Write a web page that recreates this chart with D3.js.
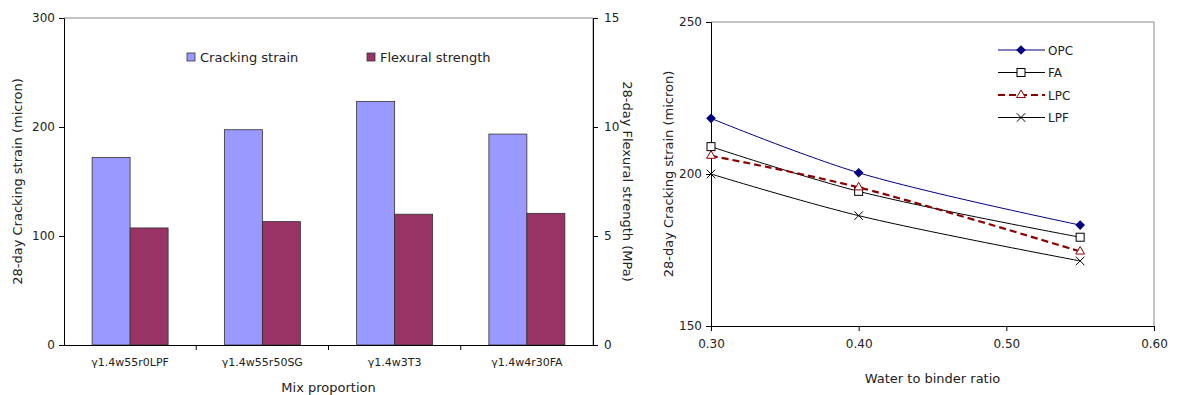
<!DOCTYPE html>
<html>
<head>
<meta charset="utf-8">
<script src="https://cdn.jsdelivr.net/npm/d3@7"></script>
<style>
  body { margin: 0; background: #fff; }
  svg text { font-family: "DejaVu Sans", sans-serif; fill: #222; }
</style>
</head>
<body>
<svg width="1177" height="395"></svg>
<script>
// bar chart data
var mixes        = ["γ1.4w55r0LPF", "γ1.4w55r50SG", "γ1.4w3T3", "γ1.4w4r30FA"];
var crackStrain  = [172, 197.5, 223.5, 193.5];
var flexStrength = [5.37, 5.66, 6.0, 6.04];

// line chart data
var wbRatio = [0.30, 0.40, 0.55];
var opc = [218.3, 200.4, 183.2];
var fa  = [209.0, 194.3, 179.2];
var lpc = [206.0, 195.6, 174.5];
var lpf = [200.0, 186.3, 171.4];

var svg = d3.select("svg");

// ---------- left: bar chart ----------
var L = {left: 64, right: 593, top: 18, bottom: 345};
var gBar = svg.append("g");

var x0 = d3.scaleBand().domain(mixes).range([L.left, L.right]);
var yL = d3.scaleLinear().domain([0, 300]).range([L.bottom, L.top]);
var yR = d3.scaleLinear().domain([0, 15]).range([L.bottom, L.top]);
var barW = 38;

// plot frame (top/right gray)
gBar.append("path")
  .attr("d", "M" + L.left + "," + L.top + "H" + L.right + "V" + L.bottom)
  .attr("fill", "none").attr("stroke", "#888");

gBar.selectAll(".cs").data(mixes).enter().append("rect")
  .attr("x", d => x0(d) + x0.bandwidth()/2 - barW)
  .attr("y", (d, i) => yL(crackStrain[i]))
  .attr("width", barW)
  .attr("height", (d, i) => L.bottom - yL(crackStrain[i]))
  .attr("fill", "#9999ff").attr("stroke", "#333").attr("stroke-width", 0.8);

gBar.selectAll(".fs").data(mixes).enter().append("rect")
  .attr("x", d => x0(d) + x0.bandwidth()/2)
  .attr("y", (d, i) => yR(flexStrength[i]))
  .attr("width", barW)
  .attr("height", (d, i) => L.bottom - yR(flexStrength[i]))
  .attr("fill", "#993366").attr("stroke", "#333").attr("stroke-width", 0.8);

var axL = gBar.append("g").attr("transform", "translate(" + L.left + ",0)")
  .call(d3.axisLeft(yL).tickValues([0, 100, 200, 300]).tickSize(5).tickPadding(4));
var axR = gBar.append("g").attr("transform", "translate(" + L.right + ",0)")
  .call(d3.axisRight(yR).tickValues([0, 5, 10, 15]).tickSize(5).tickPadding(6));
var axB = gBar.append("g").attr("transform", "translate(0," + L.bottom + ")")
  .call(d3.axisBottom(x0).tickSize(0).tickPadding(13));
// category boundary ticks
gBar.selectAll(".bt").data(mixes.slice(1)).enter().append("line")
  .attr("x1", d => x0(d)).attr("x2", d => x0(d))
  .attr("y1", L.bottom).attr("y2", L.bottom + 5).attr("stroke", "#000");

[axL, axR, axB].forEach(a => {
  a.select(".domain").attr("stroke", "#000");
  a.selectAll("text").attr("font-size", 12).attr("font-family", "DejaVu Sans");
});
axB.selectAll("text").attr("font-size", 11);

gBar.append("text").attr("transform", "translate(22," + (L.top + L.bottom)/2 + ") rotate(-90)")
  .attr("text-anchor", "middle").attr("font-size", 13).text("28-day Cracking strain (micron)");
gBar.append("text").attr("transform", "translate(623," + (L.top + L.bottom)/2 + ") rotate(90)")
  .attr("text-anchor", "middle").attr("font-size", 13).text("28-day Flexural strength (MPa)");
gBar.append("text").attr("x", (L.left + L.right)/2).attr("y", 392)
  .attr("text-anchor", "middle").attr("font-size", 13).text("Mix proportion");

var barLegend = [["Cracking strain", "#9999ff", 187], ["Flexural strength", "#993366", 367]];
barLegend.forEach(d => {
  gBar.append("rect").attr("x", d[2]).attr("y", 53).attr("width", 8).attr("height", 8)
    .attr("fill", d[1]).attr("stroke", "#333").attr("stroke-width", 0.8);
  gBar.append("text").attr("x", d[2] + 13).attr("y", 62).attr("font-size", 13).text(d[0]);
});

// ---------- right: line chart ----------
var R = {left: 711, right: 1154, top: 22, bottom: 326};
var gLine = svg.append("g");
var xs = d3.scaleLinear().domain([0.30, 0.60]).range([R.left, R.right]);
var ys = d3.scaleLinear().domain([150, 250]).range([R.bottom, R.top]);

gLine.append("path")
  .attr("d", "M" + R.left + "," + R.top + "H" + R.right + "V" + R.bottom)
  .attr("fill", "none").attr("stroke", "#888");

var axX = gLine.append("g").attr("transform", "translate(0," + R.bottom + ")")
  .call(d3.axisBottom(xs).tickValues([0.30, 0.40, 0.50, 0.60]).tickFormat(d3.format(".2f")).tickSize(5).tickPadding(8));
var axY = gLine.append("g").attr("transform", "translate(" + R.left + ",0)")
  .call(d3.axisLeft(ys).tickValues([150, 200, 250]).tickSize(5).tickPadding(4));
[axX, axY].forEach(a => {
  a.select(".domain").attr("stroke", "#000");
  a.selectAll("text").attr("font-size", 12).attr("font-family", "DejaVu Sans");
});

gLine.append("text").attr("transform", "translate(673," + (R.top + R.bottom)/2 + ") rotate(-90)")
  .attr("text-anchor", "middle").attr("font-size", 13).text("28-day Cracking strain (micron)");
gLine.append("text").attr("x", (R.left + R.right)/2).attr("y", 383)
  .attr("text-anchor", "middle").attr("font-size", 13).text("Water to binder ratio");

var series = [
  {name: "OPC", vals: opc, color: "#000080", dash: null, width: 1, marker: "diamond"},
  {name: "FA",  vals: fa,  color: "#000000", dash: null, width: 1, marker: "square"},
  {name: "LPC", vals: lpc, color: "#8b0000", dash: "7,4", width: 2.2, marker: "triangle"},
  {name: "LPF", vals: lpf, color: "#000000", dash: null, width: 1, marker: "x"}
];

var line = d3.line().curve(d3.curveCatmullRom.alpha(0.5)).x((d, i) => xs(wbRatio[i])).y(d => ys(d));

function drawMarker(g, type, cx, cy, color) {
  if (type === "diamond") {
    g.append("path").attr("d", d3.symbol(d3.symbolSquare, 34)())
      .attr("transform", "translate(" + cx + "," + cy + ") rotate(45)")
      .attr("fill", color).attr("stroke", color);
  } else if (type === "square") {
    g.append("rect").attr("x", cx - 4).attr("y", cy - 4).attr("width", 8).attr("height", 8)
      .attr("fill", "#fff").attr("stroke", color);
  } else if (type === "triangle") {
    g.append("path").attr("d", d3.symbol(d3.symbolTriangle2, 55)())
      .attr("transform", "translate(" + cx + "," + cy + ")")
      .attr("fill", "#fff").attr("stroke", color);
  } else {
    g.append("path").attr("d", d3.symbol(d3.symbolX, 50)())
      .attr("transform", "translate(" + cx + "," + cy + ")")
      .attr("fill", "none").attr("stroke", color);
  }
}

series.forEach(s => {
  gLine.append("path").datum(s.vals).attr("d", line)
    .attr("fill", "none").attr("stroke", s.color).attr("stroke-width", s.width)
    .attr("stroke-dasharray", s.dash);
  s.vals.forEach((v, i) => drawMarker(gLine, s.marker, xs(wbRatio[i]), ys(v), s.color));
});

series.forEach((s, i) => {
  var yy = 50 + i * 22.5;
  gLine.append("line").attr("x1", 998).attr("x2", 1045).attr("y1", yy).attr("y2", yy)
    .attr("stroke", s.color).attr("stroke-width", s.width).attr("stroke-dasharray", s.dash);
  drawMarker(gLine, s.marker, 1021, yy, s.color);
  gLine.append("text").attr("x", 1048).attr("y", yy + 4.5).attr("font-size", 12).text(s.name);
});
</script>
</body>
</html>
